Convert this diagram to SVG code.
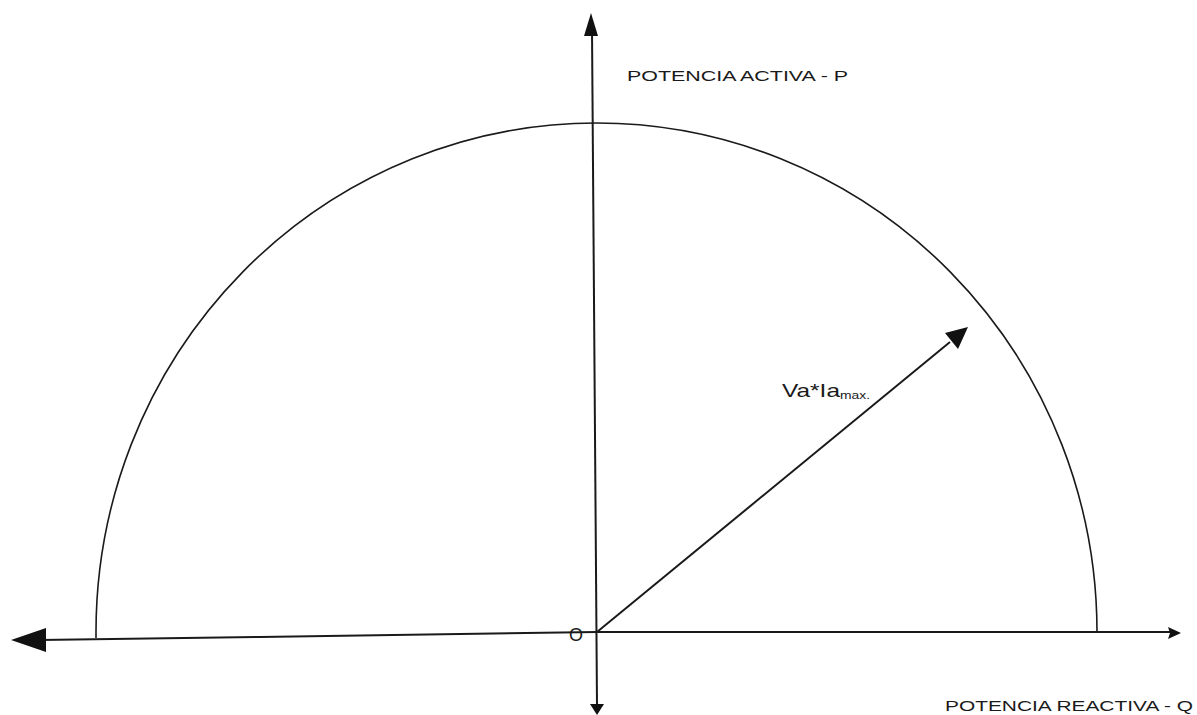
<svg xmlns="http://www.w3.org/2000/svg" width="1197" height="715" viewBox="0 0 1197 715">
<style>
.ln{stroke:#1a1a1a;stroke-width:2;fill:none}
.ah{fill:#111;stroke:none}
.t{font-family:"Liberation Sans",Arial,sans-serif;fill:#1a1a1a}
</style>
<rect width="1197" height="715" fill="#fff"/>
<g id="circle">
<path class="ln" d="M96,638 L96,632 A500.5,509 0 0 1 1097,632" style="stroke-width:1.6"/>
</g>
<g id="connectors">
<line class="ln" x1="592" y1="30" x2="597" y2="705"/>
<polygon class="ah" points="591,13 584,36 598,36"/>
<polygon class="ah" points="597,715 590,704 604,704"/>
<polyline class="ln" points="40,640 260,637 597,632 1172,632"/>
<polygon class="ah" points="11,640 46,628 46,652"/>
<polygon class="ah" points="1181,633 1168,627 1170,633 1168,639"/>
<line class="ln" x1="597" y1="632" x2="950" y2="342"/>
<polygon class="ah" points="968,327 945,333 958,349"/>
</g>
<g id="labels">
<text class="t" x="627" y="81" font-size="15.5" textLength="221" lengthAdjust="spacingAndGlyphs">POTENCIA ACTIVA - P</text>
<text class="t" x="945" y="711" font-size="15.5" textLength="248" lengthAdjust="spacingAndGlyphs">POTENCIA REACTIVA - Q</text>
<text class="t" x="782" y="397" font-size="18.5"><tspan textLength="58" lengthAdjust="spacingAndGlyphs">Va*Ia</tspan><tspan font-size="11.5" dy="2" textLength="30" lengthAdjust="spacingAndGlyphs">max.</tspan></text>
<text class="t" x="569" y="641" font-size="18">O</text>
</g>
</svg>
